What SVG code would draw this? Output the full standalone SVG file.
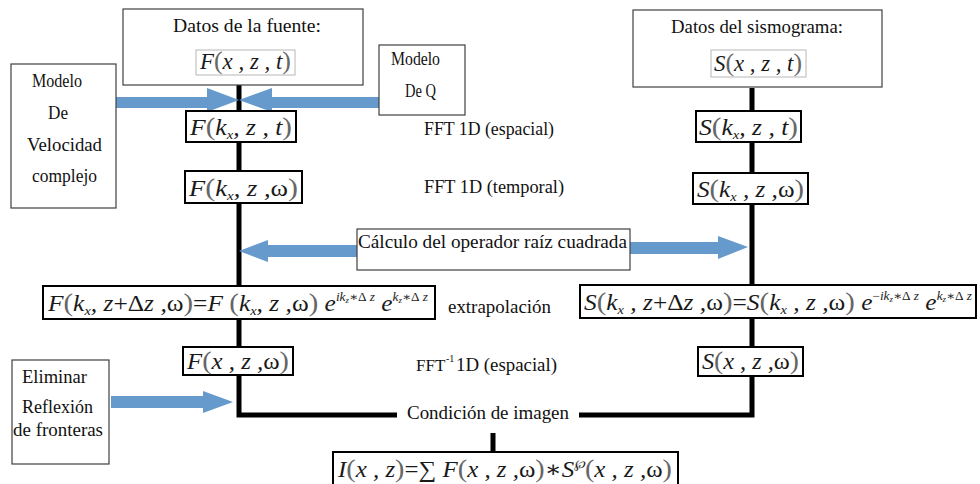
<svg xmlns="http://www.w3.org/2000/svg" width="980" height="484" viewBox="0 0 980 484">
<style>
.bg{fill:#fff}
.ob{fill:#fff;stroke:#404040;stroke-width:1.2}
.ib{fill:#fff;stroke:#b8b8b8;stroke-width:1}
.fb{fill:#fff;stroke:#000;stroke-width:2}
.t{font-family:"Liberation Serif","DejaVu Serif","Times New Roman",serif;font-size:19px;fill:#111}
.t.e{font-size:10px}
.t.f{font-size:17px}
.m{font-family:"Liberation Serif","DejaVu Serif","Times New Roman",serif;font-size:23px;font-style:italic;fill:#1a1a1a}
.p{font-style:normal;fill:#666;font-size:26px}
.n{font-style:normal}
.sb{font-size:13px}
.sp{font-size:12px}
.ss{font-size:8px}
.ln{fill:none;stroke:#000;stroke-width:5}
.ar{fill:#6699cc}
</style>
<rect class="bg" x="0" y="0" width="980" height="484"/>

<g id="connectors">
  <path class="ln" d="M239 85V111M239 142V171M239 203V286M239 319V347M239 375V415H397"/>
  <path class="ln" d="M752 88V111M752 142V173M752 205V285M752 318V347M752 376V415H579"/>
  <path class="ln" d="M493 433V452"/>
  <polygon class="ar" points="116,97 207,97 207,88 239,100 207,112 207,108 116,108"/>
  <polygon class="ar" points="379,97 272,97 272,88 239,100 272,112 272,108 379,108"/>
  <polygon class="ar" points="357,245 268,245 268,240 239,251 268,262 268,257 357,257"/>
  <polygon class="ar" points="630,242 718,242 718,236 748,247 718,259 718,254 630,254"/>
  <polygon class="ar" points="111,396 203,396 203,391 233,402 203,413 203,408 111,408"/>
</g>

<g id="fuente">
  <rect class="ob" x="123" y="9" width="240" height="76"/>
  <text class="t" x="173" y="32" textLength="148" lengthAdjust="spacingAndGlyphs">Datos de la fuente:</text>
  <rect class="ib" x="196" y="50" width="99" height="25"/>
  <text class="m" x="200" y="69" textLength="91" lengthAdjust="spacingAndGlyphs">F<tspan class="p">(</tspan>x , z , t<tspan class="p">)</tspan></text>
</g>

<g id="sismograma">
  <rect class="ob" x="633" y="10" width="249" height="77"/>
  <text class="t" x="671" y="33" textLength="172" lengthAdjust="spacingAndGlyphs">Datos del sismograma:</text>
  <rect class="ib" x="711" y="50" width="95" height="27"/>
  <text class="m" x="714" y="71" textLength="88" lengthAdjust="spacingAndGlyphs">S<tspan class="p">(</tspan>x , z , t<tspan class="p">)</tspan></text>
</g>

<g id="modelo-velocidad">
  <rect class="ob" x="11" y="64" width="105" height="144"/>
  <text class="t" x="32" y="87" textLength="50" lengthAdjust="spacingAndGlyphs">Modelo</text>
  <text class="t" x="48" y="119" textLength="20" lengthAdjust="spacingAndGlyphs">De</text>
  <text class="t" x="27" y="151" textLength="75" lengthAdjust="spacingAndGlyphs">Velocidad</text>
  <text class="t" x="32" y="182" textLength="65" lengthAdjust="spacingAndGlyphs">complejo</text>
</g>

<g id="modelo-q">
  <rect class="ob" x="379" y="45" width="86" height="70"/>
  <text class="t" x="391" y="65" textLength="49" lengthAdjust="spacingAndGlyphs">Modelo</text>
  <text class="t" x="405" y="97" textLength="31" lengthAdjust="spacingAndGlyphs">De Q</text>
</g>

<g id="F-kx-z-t">
  <rect class="fb" x="186" y="111" width="110" height="31"/>
  <text class="m" x="190" y="135" textLength="102" lengthAdjust="spacingAndGlyphs">F<tspan class="p">(</tspan>k<tspan class="sb" dy="4">x</tspan><tspan dy="-4">, z , t</tspan><tspan class="p">)</tspan></text>
</g>
<g id="S-kx-z-t">
  <rect class="fb" x="696" y="111" width="105" height="31"/>
  <text class="m" x="699" y="135" textLength="99" lengthAdjust="spacingAndGlyphs">S<tspan class="p">(</tspan>k<tspan class="sb" dy="4">x</tspan><tspan dy="-4">, z , t</tspan><tspan class="p">)</tspan></text>
</g>

<g id="fft-espacial">
  <text class="t" x="424" y="135" textLength="130" lengthAdjust="spacingAndGlyphs">FFT 1D (espacial)</text>
</g>
<g id="fft-temporal">
  <text class="t" x="424" y="193" textLength="140" lengthAdjust="spacingAndGlyphs">FFT 1D (temporal)</text>
</g>

<g id="F-kx-z-w">
  <rect class="fb" x="185" y="171" width="117" height="32"/>
  <text class="m" x="189" y="196" textLength="109" lengthAdjust="spacingAndGlyphs">F<tspan class="p">(</tspan>k<tspan class="sb" dy="4">x</tspan><tspan dy="-4">, z ,</tspan><tspan class="n">ω</tspan><tspan class="p">)</tspan></text>
</g>
<g id="S-kx-z-w">
  <rect class="fb" x="693" y="173" width="115" height="31"/>
  <text class="m" x="697" y="197" textLength="107" lengthAdjust="spacingAndGlyphs">S<tspan class="p">(</tspan>k<tspan class="sb" dy="4">x</tspan><tspan dy="-4"> , z ,</tspan><tspan class="n">ω</tspan><tspan class="p">)</tspan></text>
</g>

<g id="calculo">
  <rect class="ob" x="357" y="229" width="273" height="41"/>
  <text class="t" x="358" y="248" textLength="269" lengthAdjust="spacingAndGlyphs">Cálculo del operador raíz cuadrada</text>
</g>

<g id="F-extrapolacion">
  <rect class="fb" x="43" y="286" width="392" height="33"/>
  <text class="m" x="48" y="311" textLength="380" lengthAdjust="spacingAndGlyphs">F<tspan class="p">(</tspan>k<tspan class="sb" dy="4">x</tspan><tspan dy="-4">, z</tspan><tspan class="n">+Δ</tspan>z ,<tspan class="n">ω</tspan><tspan class="p">)</tspan><tspan class="n">=</tspan>F <tspan class="p">(</tspan>k<tspan class="sb" dy="4">x</tspan><tspan dy="-4">, z ,</tspan><tspan class="n">ω</tspan><tspan class="p">)</tspan> e<tspan class="sp" dy="-10">ik</tspan><tspan class="ss" dy="2">z</tspan><tspan class="sp" dy="-2"><tspan class="n">∗Δ</tspan> z</tspan><tspan dy="10"> e</tspan><tspan class="sp" dy="-10">k</tspan><tspan class="ss" dy="2">z</tspan><tspan class="sp" dy="-2"><tspan class="n">∗Δ</tspan> z</tspan></text>
</g>
<g id="extrapolacion">
  <text class="t" x="448" y="313" textLength="103" lengthAdjust="spacingAndGlyphs">extrapolación</text>
</g>
<g id="S-extrapolacion">
  <rect class="fb" x="580" y="285" width="396" height="33"/>
  <text class="m" x="584" y="310" textLength="388" lengthAdjust="spacingAndGlyphs">S<tspan class="p">(</tspan>k<tspan class="sb" dy="4">x</tspan><tspan dy="-4"> , z</tspan><tspan class="n">+Δ</tspan>z ,<tspan class="n">ω</tspan><tspan class="p">)</tspan><tspan class="n">=</tspan>S<tspan class="p">(</tspan>k<tspan class="sb" dy="4">x</tspan><tspan dy="-4"> , z ,</tspan><tspan class="n">ω</tspan><tspan class="p">)</tspan> e<tspan class="sp" dy="-10"><tspan class="n">−</tspan>ik</tspan><tspan class="ss" dy="2">z</tspan><tspan class="sp" dy="-2"><tspan class="n">∗Δ</tspan> z</tspan><tspan dy="10"> e</tspan><tspan class="sp" dy="-10">k</tspan><tspan class="ss" dy="2">z</tspan><tspan class="sp" dy="-2"><tspan class="n">∗Δ</tspan> z</tspan></text>
</g>

<g id="F-x-z-w">
  <rect class="fb" x="183" y="347" width="110" height="28"/>
  <text class="m" x="187" y="369" textLength="102" lengthAdjust="spacingAndGlyphs">F<tspan class="p">(</tspan>x , z ,<tspan class="n">ω</tspan><tspan class="p">)</tspan></text>
</g>
<g id="S-x-z-w">
  <rect class="fb" x="698" y="347" width="105" height="29"/>
  <text class="m" x="702" y="369" textLength="97" lengthAdjust="spacingAndGlyphs">S<tspan class="p">(</tspan>x , z ,<tspan class="n">ω</tspan><tspan class="p">)</tspan></text>
</g>
<g id="fft-inversa">
  <text class="t f" x="416" y="371">FFT</text>
  <text class="t e" x="446" y="362">-1</text>
  <text class="t" x="456" y="371" textLength="101" lengthAdjust="spacingAndGlyphs">1D (espacial)</text>
</g>

<g id="eliminar">
  <rect class="ob" x="12" y="360" width="97" height="104"/>
  <text class="t" x="22" y="383" textLength="65" lengthAdjust="spacingAndGlyphs">Eliminar</text>
  <text class="t" x="22" y="413" textLength="71" lengthAdjust="spacingAndGlyphs">Reflexión</text>
  <text class="t" x="13" y="436" textLength="90" lengthAdjust="spacingAndGlyphs">de fronteras</text>
</g>

<g id="condicion">
  <text class="t" x="407" y="419" textLength="162" lengthAdjust="spacingAndGlyphs">Condición de imagen</text>
</g>

<g id="imagen">
  <rect class="fb" x="333" y="452" width="345" height="40"/>
  <text class="m" x="338" y="477" textLength="334" lengthAdjust="spacingAndGlyphs">I<tspan class="p">(</tspan>x , z<tspan class="p">)</tspan><tspan class="n">=∑</tspan> F<tspan class="p">(</tspan>x , z ,<tspan class="n">ω</tspan><tspan class="p">)</tspan><tspan class="n">∗</tspan>S<tspan class="sp" dy="-9">℘</tspan><tspan dy="9" class="p">(</tspan>x , z ,<tspan class="n">ω</tspan><tspan class="p">)</tspan></text>
</g>
</svg>
